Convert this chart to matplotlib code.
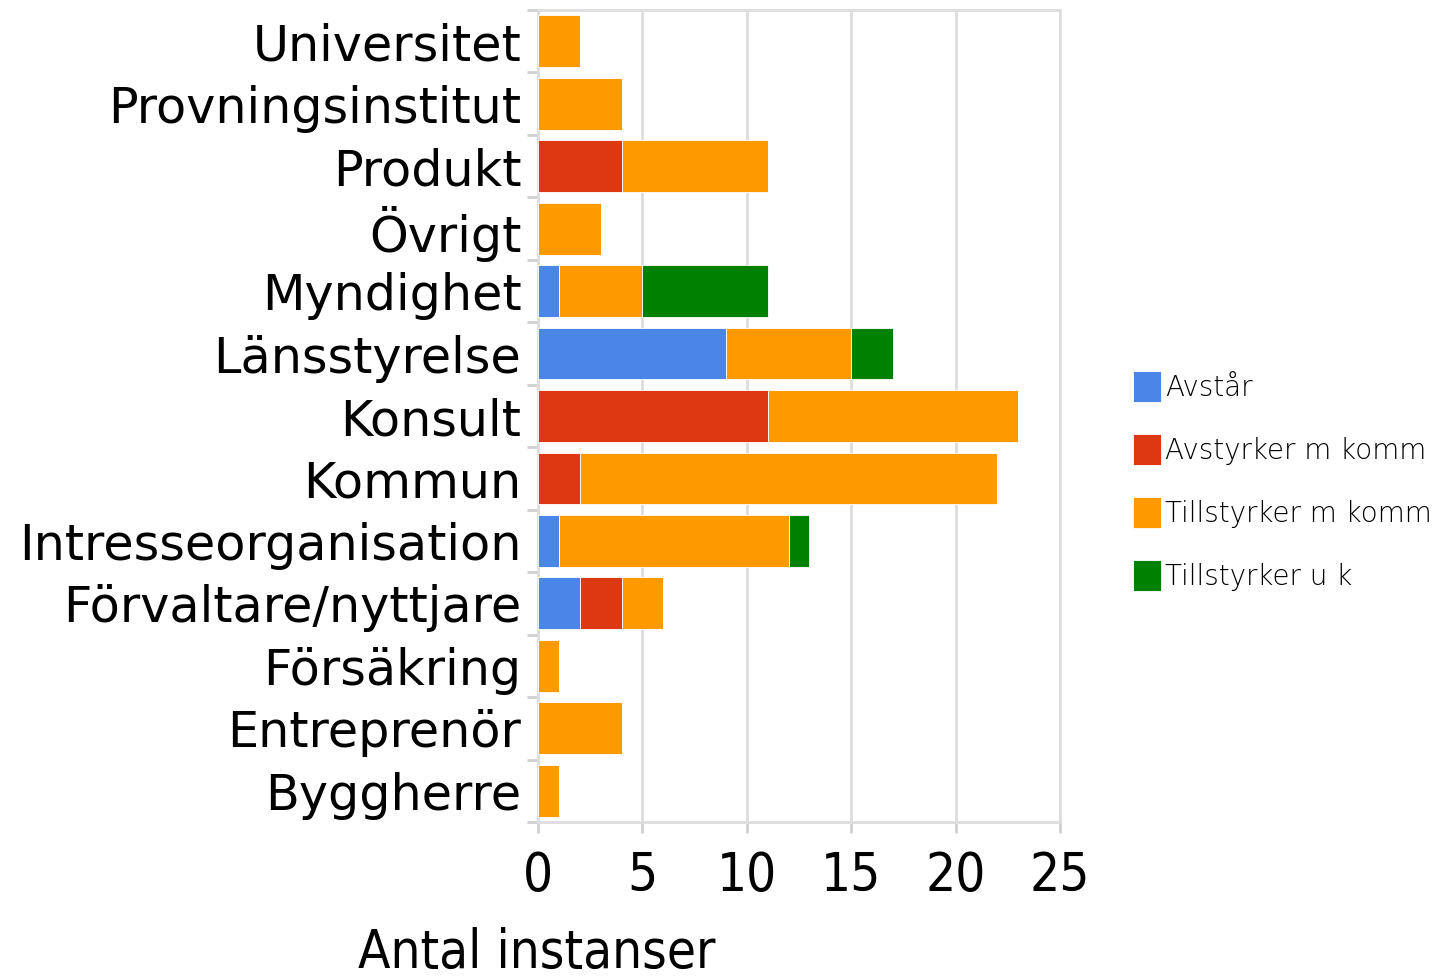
import numpy as np
import matplotlib.pyplot as plt

# categories top to bottom
cats = ["Universitet", "Provningsinstitut", "Produkt", "Övrigt", "Myndighet",
        "Länsstyrelse", "Konsult", "Kommun", "Intresseorganisation",
        "Förvaltare/nyttjare", "Försäkring", "Entreprenör", "Byggherre"]
avstar = [0, 0, 0, 0, 1, 9, 0, 0, 1, 2, 0, 0, 0]
avstyrker = [0, 0, 4, 0, 0, 0, 11, 2, 0, 2, 0, 0, 0]
till_komm = [2, 4, 7, 3, 4, 6, 12, 20, 11, 2, 1, 4, 1]
till_uk = [0, 0, 0, 0, 6, 2, 0, 0, 1, 0, 0, 0, 0]
series = ["Avstår", "Avstyrker m komm", "Tillstyrker m komm", "Tillstyrker u k"]
colors = ["#4a86e8", "#dc3912", "#ff9900", "#008000"]

fig = plt.figure(figsize=(14.39, 9.77), dpi=100)
ax = fig.add_axes([538/1439, 1-822/977, (1060-538)/1439, (822-10)/977])

y = np.arange(len(cats))
left = np.zeros(len(cats))
for vals, name, c in zip([avstar, avstyrker, till_komm, till_uk], series, colors):
    v = np.array(vals, dtype=float)
    ax.barh(y, v, left=left, height=0.83, color=c, label=name,
            edgecolor='white', linewidth=0.6, zorder=3)
    left += v

ax.set_xlim(0, 25)
ax.set_ylim(len(cats)-0.5, -0.5)
ax.set_xticks(np.arange(0, 26, 5))
ax.set_yticks(y)
ax.set_yticklabels(cats, fontsize=35.5, family='DejaVu Sans')
ax.set_yticks(np.arange(-0.5, len(cats), 1), minor=True)
ax.tick_params(axis='y', which='major', length=0, pad=12)
ax.tick_params(axis='y', which='minor', length=8, color='#d0d0d0', width=2)
ax.tick_params(axis='x', length=8, color='#d0d0d0', width=2, pad=12)
for lab in ax.get_xticklabels():
    lab.set_fontsize(38)
    lab.set_family('DejaVu Sans')
    lab.set_fontstretch('condensed')
ax.grid(axis='x', color='#dddddd', linewidth=2, zorder=0)
for s in ax.spines.values():
    s.set_color('#dddddd')
    s.set_linewidth(2)

fig.text(537/1439, 9/977, "Antal instanser", fontsize=38, fontstretch='condensed',
         ha='center', va='baseline')

handles, labels = ax.get_legend_handles_labels()
leg = fig.legend(handles, labels, loc='center left',
                 bbox_to_anchor=(1133/1439, 1-481/977), frameon=False,
                 prop={'size': 20, 'weight': 'light'},
                 handlelength=1.0, handleheight=1.35, handletextpad=0.15,
                 labelspacing=1.15, borderpad=0, borderaxespad=0)

fig.savefig("out.png", dpi=100)
